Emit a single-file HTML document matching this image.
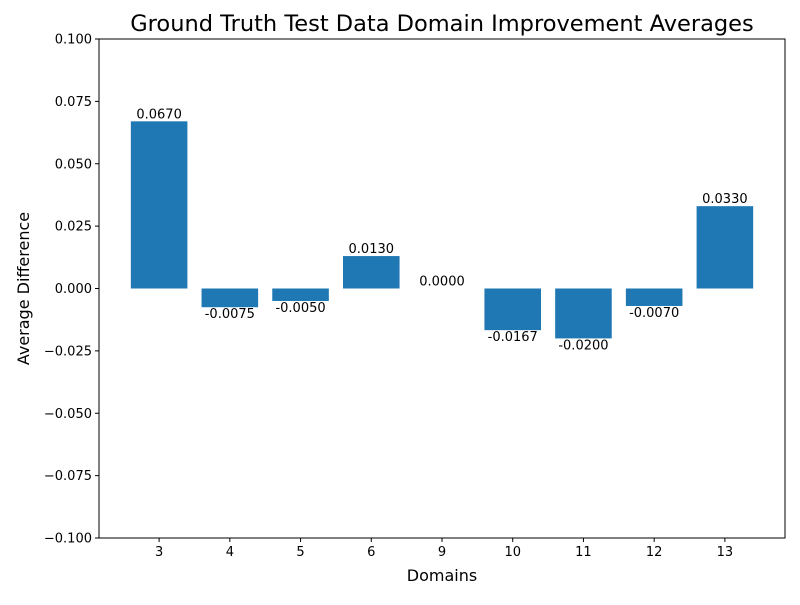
<!DOCTYPE html>
<html><head><meta charset="utf-8"><style>
body{margin:0;background:#fff}
svg{font-family:"DejaVu Sans","Liberation Sans",sans-serif}
</style></head><body>
<svg id="chart" width="800" height="600">
<rect width="800" height="600" fill="#fff"/>
<text x="442" y="31" text-anchor="middle" font-size="22.5">Ground Truth Test Data Domain Improvement Averages</text>
<g id="plot"></g>
<rect x="99" y="39" width="686" height="499" fill="none" stroke="#000" stroke-width="1"/>
<text x="442" y="581" text-anchor="middle" font-size="16">Domains</text>
<text transform="translate(29,288.5) rotate(-90)" text-anchor="middle" font-size="16">Average Difference</text>
</svg>
<script>
const categories=["3","4","5","6","9","10","11","12","13"];
const values=[0.067,-0.0075,-0.005,0.013,0,-0.0167,-0.02,-0.007,0.033];
const labels=["0.0670","-0.0075","-0.0050","0.0130","0.0000","-0.0167","-0.0200","-0.0070","0.0330"];
const yTicks=[-0.1,-0.075,-0.05,-0.025,0,0.025,0.05,0.075,0.1];
const yTickLabels=["\u22120.100","\u22120.075","\u22120.050","\u22120.025","0.000","0.025","0.050","0.075","0.100"];
const NS="http://www.w3.org/2000/svg";
const L=99,R=785,T=39,B=538,ymin=-0.1,ymax=0.1,xmin=-0.85,xmax=categories.length-1+0.85;
const y=v=>B-(v-ymin)/(ymax-ymin)*(B-T);
const x=i=>L+(i-xmin)/(xmax-xmin)*(R-L);
const g=document.getElementById('plot');
function mk(t,a){const e=document.createElementNS(NS,t);for(const k in a)e.setAttribute(k,a[k]);g.appendChild(e);return e;}
const bw=0.8*(R-L)/(xmax-xmin);
yTicks.forEach((v,i)=>{
 const tk=mk('line',{x1:L-4,x2:L,y1:y(v),y2:y(v),stroke:'#000'});
 
 
 const t=mk('text',{x:L-7,y:y(v)+4.5,'text-anchor':'end','font-size':13});
 t.textContent=yTickLabels[i];
 
 
});
categories.forEach((c,i)=>{
 const v=values[i],cx=x(i),y0=y(0),y1=y(v);
 const r=mk('rect',{x:cx-bw/2,y:Math.min(y0,y1),width:bw,height:Math.abs(y1-y0),fill:'#1f77b4'});
 
 
 const tk=mk('line',{x1:cx,x2:cx,y1:B,y2:B+4,stroke:'#000'});
 
 
 const t=mk('text',{x:cx,y:B+18,'text-anchor':'middle','font-size':13});
 t.textContent=c;
 
 
 const lt=mk('text',{x:cx,y:v<0?y1+11:y1-3,'text-anchor':'middle','font-size':13});
 lt.textContent=labels[i];
 
 
});
</script>
</body></html>
